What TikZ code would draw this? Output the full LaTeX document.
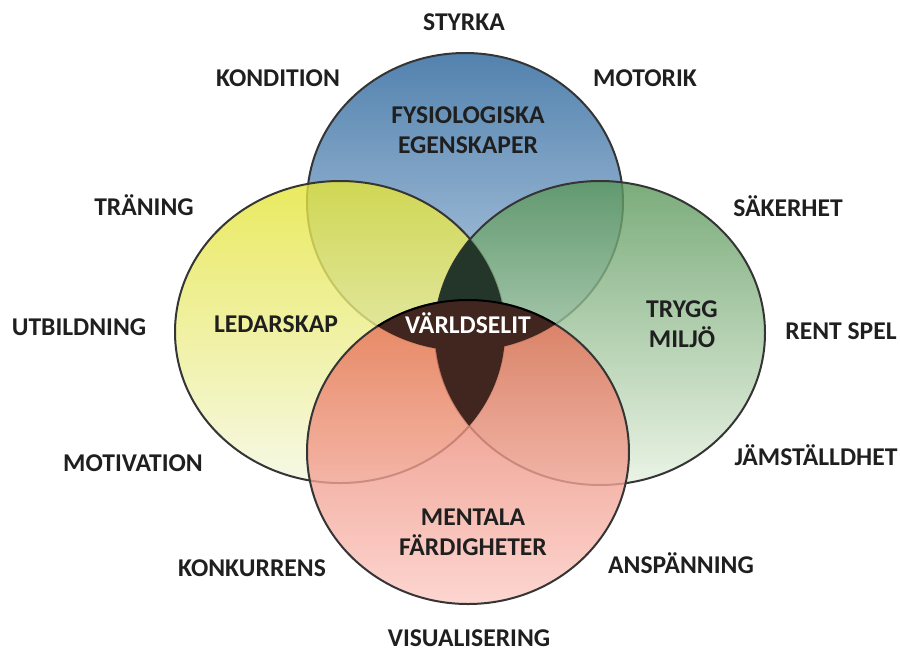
\documentclass[tikz,border=0pt]{standalone}
\usepackage{fontspec}
\setmainfont{Carlito}
\usepackage{xcolor}
\usepackage{tikz}

\definecolor{fysTop}{HTML}{5282AE}
\definecolor{fysBot}{HTML}{BFD2E7}
\definecolor{ledTop}{HTML}{E4E437}
\definecolor{ledBot}{HTML}{F4F7E0}
\definecolor{tryTop}{HTML}{5A975A}
\definecolor{tryBot}{HTML}{E6F1DF}
\definecolor{menTop}{HTML}{E46A50}
\definecolor{menBot}{HTML}{FCCBC5}
\definecolor{rim}{HTML}{353535}
\definecolor{coreG}{HTML}{24352A}
\definecolor{coreB}{HTML}{41251F}

\newcommand{\fysRing}{(465,202) ellipse [x radius=79pt, y radius=74.5pt]}
\newcommand{\ledRing}{(340,332) ellipse [x radius=82.5pt, y radius=75.5pt]}
\newcommand{\tryRing}{(600,333) ellipse [x radius=82.5pt, y radius=76pt]}
\newcommand{\menRing}{(468,452) ellipse [x radius=80.5pt, y radius=76pt]}

\begin{document}
\begin{tikzpicture}[x=0.5pt,y=-0.5pt,
    ring/.style={draw=rim, line width=1pt, fill opacity=0.8},
    outer/.style={font=\fontsize{12.8}{15}\selectfont\bfseries, text=black!88, text height=8pt, text depth=0pt},
    inner/.style={font=\fontsize{12.8}{15}\selectfont\bfseries, text=black!88, align=center}]
    \useasboundingbox (0,0) rectangle (900,654);

    % The four areas
    \shade[ring, fill opacity=1, top color=fysTop, bottom color=fysBot] \fysRing;
    \shade[ring, top color=ledTop, bottom color=ledBot] \ledRing;
    \shade[ring, top color=tryTop, bottom color=tryBot] \tryRing;
    \shade[ring, top color=menTop, bottom color=menBot] \menRing;

    % Dark core where the areas meet
    \begin{scope}
        \clip \ledRing;
        \clip \tryRing;
        \fill[coreG] (420,230) rectangle (520,326);
        \fill[coreB] (420,326) rectangle (520,440);
    \end{scope}
    \begin{scope}
        \clip \fysRing;
        \fill[coreB, draw=black, line width=1pt] \menRing;
    \end{scope}

    % Area titles
    \node[inner] (fysio) at (468,130) {FYSIOLOGISKA\\EGENSKAPER};
    \node[outer] (ledarskap) at (276,324) {LEDARSKAP};
    \node[outer, text=white] (varldselit) at (468,325) {VÄRLDSELIT};
    \node[inner] (trygg) at (682,324) {TRYGG\\MILJÖ};
    \node[inner] (mentala) at (473,532) {MENTALA\\FÄRDIGHETER};

    % Words round the outside
    \foreach \px/\py/\nm/\txt in {464/22/styrka/STYRKA, 278/78/kondition/KONDITION,
        645/78/motorik/MOTORIK, 144/207/traning/TRÄNING, 788/208/sakerhet/SÄKERHET,
        79/327/utbildning/UTBILDNING, 841/331/rentspel/RENT SPEL,
        133/463/motivation/MOTIVATION, 816/457/jamstalldhet/JÄMSTÄLLDHET,
        252/568/konkurrens/KONKURRENS, 681/565/anspanning/ANSPÄNNING,
        469/638/visualisering/VISUALISERING} {
        \node[outer] (\nm) at (\px,\py) {\txt};
    }
\end{tikzpicture}
\end{document}
